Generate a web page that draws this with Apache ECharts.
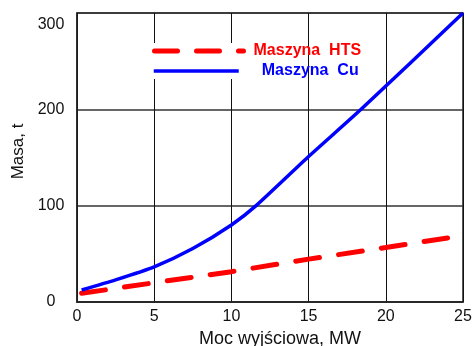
<!DOCTYPE html>
<html>
<head>
<meta charset="utf-8">
<script src="https://cdn.jsdelivr.net/npm/echarts@6/dist/echarts.min.js"></script>
<style>html,body{margin:0;padding:0;background:#fff}#c{width:472px;height:346px}</style>
</head>
<body>
<div id="c"></div>
<script>
var xTicks = [0, 5, 10, 15, 20, 25];
var yTicks = [0, 100, 200, 300];
var seriesNames = ['Maszyna  HTS', 'Maszyna  Cu'];
var htsData = [[0.3, 9], [5, 20], [10, 31.5], [15, 44.5], [20, 56.5], [24, 66.5]];
var cuData = [[0.3, 12.5], [2.5, 23], [5, 36.5], [7.5, 55.5], [10, 80], [11.6, 100], [15, 151], [18.4, 200], [25, 300]];
var xTitle = 'Moc wyjściowa, MW';
var yTitle = 'Masa, t';

var FONT = 'Liberation Sans, Arial, sans-serif';
var chart = echarts.init(document.getElementById('c'), null, {renderer: 'canvas'});
chart.setOption({
  animation: false,
  backgroundColor: '#fff',
  grid: {left: 77, right: 9, top: 13, bottom: 44, show: true, borderColor: '#222', borderWidth: 1.5, backgroundColor: 'transparent', outerBoundsMode: 'none', containLabel: false},
  xAxis: {
    type: 'value', min: xTicks[0], max: xTicks[xTicks.length - 1], interval: 5,
    name: xTitle, nameLocation: 'middle', nameGap: 28,
    nameTextStyle: {fontFamily: FONT, fontSize: 18, color: '#111', padding: [0, 0, 0, 20]},
    axisLine: {show: true, lineStyle: {color: '#222', width: 1.5}},
    axisTick: {show: false},
    axisLabel: {fontFamily: FONT, fontSize: 16, color: '#111', margin: 7},
    splitLine: {show: true, lineStyle: {color: '#111', width: 1}}
  },
  yAxis: {
    type: 'value', min: yTicks[0], max: yTicks[yTicks.length - 1], interval: 100,
    name: yTitle, nameLocation: 'middle', nameGap: 49, nameRotate: 90,
    nameTextStyle: {fontFamily: FONT, fontSize: 17, color: '#111', padding: [0, 0, 0, 12]},
    axisLine: {show: true, lineStyle: {color: '#222', width: 1.5}},
    axisTick: {show: false},
    axisLabel: {
      fontFamily: FONT, fontSize: 16, color: '#111', margin: 26, align: 'center',
      formatter: function (v) { return v === yTicks[yTicks.length - 1] ? '{t|' + v + '}' : '' + v; },
      rich: {t: {fontFamily: FONT, fontSize: 16, color: '#111', padding: [24, 0, 0, 0]}}
    },
    splitLine: {show: true, lineStyle: {color: '#333', width: 1.5}}
  },
  graphic: [{
    type: 'rect', z: 1, silent: true,
    shape: {x: 149, y: 43, width: 96, height: 36},
    style: {fill: '#fff'}
  }],
  legend: [{
    data: [seriesNames[0]], left: 152, top: 43, orient: 'vertical',
    itemWidth: 89, itemHeight: 14, padding: 0,
    itemStyle: {opacity: 0},
    lineStyle: {width: 5, type: [23, 19], cap: 'round', color: '#ff0000'},
    textStyle: {fontFamily: FONT, fontSize: 16, fontWeight: 'bold', color: '#ff0000', padding: [0, 0, 0, 5]}
  }, {
    data: [seriesNames[1]], left: 152, top: 63, orient: 'vertical',
    itemWidth: 85, itemHeight: 14, padding: 0,
    itemStyle: {opacity: 0},
    lineStyle: {width: 3.5, color: '#0000ff'},
    textStyle: {fontFamily: FONT, fontSize: 16, fontWeight: 'bold', color: '#0000ff', padding: [0, 0, 0, 18]}
  }],
  series: [{
    name: seriesNames[0], type: 'line', data: htsData, symbol: 'none', z: 3,
    lineStyle: {color: '#ff0000', width: 5, type: [24, 19.3], cap: 'round'},
    itemStyle: {color: '#ff0000'}
  }, {
    name: seriesNames[1], type: 'line', data: cuData, symbol: 'none', z: 3,
    smooth: 0.2,
    lineStyle: {color: '#0000ff', width: 3.5},
    itemStyle: {color: '#0000ff'}
  }]
});
</script>
</body>
</html>
